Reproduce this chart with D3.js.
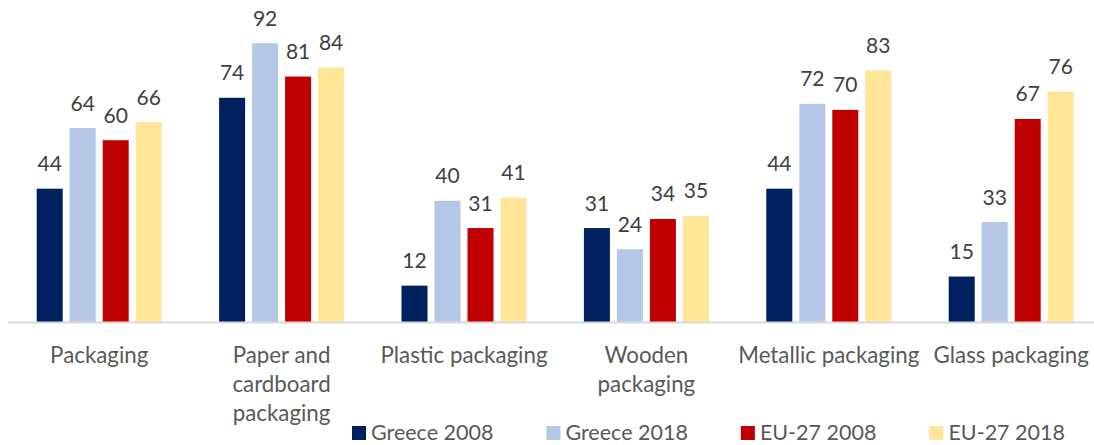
<!DOCTYPE html>
<html>
<head>
<meta charset="utf-8">
<script src="https://cdn.jsdelivr.net/npm/d3@7"></script>
<style>
  html, body { margin: 0; padding: 0; background: #ffffff; }
  svg { display: block; }
  text { font-family: Lato, "Open Sans", sans-serif; }
</style>
</head>
<body>
<svg id="chart" width="1094" height="445"></svg>
<script>
// ---- data ----
const categories = [
  ["Packaging"],
  ["Paper and", "cardboard", "packaging"],
  ["Plastic packaging"],
  ["Wooden", "packaging"],
  ["Metallic packaging"],
  ["Glass packaging"]
];
const seriesNames = ["Greece 2008", "Greece 2018", "EU-27 2008", "EU-27 2018"];
const greece2008 = [44, 74, 12, 31, 44, 15];
const greece2018 = [64, 92, 40, 24, 72, 33];
const eu2008     = [60, 81, 31, 34, 70, 67];
const eu2018     = [66, 84, 41, 35, 83, 76];
const seriesValues = [greece2008, greece2018, eu2008, eu2018];
const colors = ["#002060", "#B4C7E7", "#C00000", "#FFE699"];

// ---- layout ----
const svg = d3.select("#chart");
const baseY = 322;
const x0 = d3.scaleBand().domain(d3.range(categories.length)).range([8, 8 + 6 * 182.4]).padding(0);
const x1 = d3.scaleBand().domain(d3.range(seriesNames.length)).range([-62.5, 62.5]).paddingInner(0.212).paddingOuter(0);
const y = d3.scaleLinear().domain([0, 100]).range([baseY, 19]);

const groups = svg.selectAll("g.grp")
  .data(categories.map((c, i) => i))
  .enter().append("g")
  .attr("class", "grp")
  .attr("transform", i => `translate(${x0(i) + x0.bandwidth() / 2},0)`);

groups.selectAll("rect")
  .data(i => seriesValues.map((s, k) => ({ k, v: s[i] })))
  .enter().append("rect")
  .attr("x", d => x1(d.k))
  .attr("y", d => y(d.v))
  .attr("width", x1.bandwidth())
  .attr("height", d => baseY - y(d.v))
  .attr("fill", d => colors[d.k]);

groups.selectAll("text.val")
  .data(i => seriesValues.map((s, k) => ({ k, v: s[i] })))
  .enter().append("text")
  .attr("class", "val")
  .attr("x", d => x1(d.k) + x1.bandwidth() / 2)
  .attr("y", d => y(d.v) - 17.5)
  .attr("text-anchor", "middle")
  .attr("font-size", 21)
  .attr("fill", "#404040")
  .text(d => d.v);

// axis line
svg.append("line")
  .attr("x1", 8).attr("x2", 1094)
  .attr("y1", baseY + 0.5).attr("y2", baseY + 0.5)
  .attr("stroke", "#D9D9D9").attr("stroke-width", 2);

// category labels
groups.append("text")
  .attr("text-anchor", "middle")
  .attr("font-size", 22.3)
  .attr("fill", "#595959")
  .selectAll("tspan")
  .data(i => categories[i])
  .enter().append("tspan")
  .attr("x", 0)
  .attr("y", (d, j) => 363 + j * 29)
  .text(d => d);

// legend
let lx = 352;
seriesNames.forEach((name, k) => {
  svg.append("rect")
    .attr("x", lx).attr("y", 426)
    .attr("width", 14).attr("height", 14)
    .attr("fill", colors[k]);
  const t = svg.append("text")
    .attr("x", lx + 19).attr("y", 440)
    .attr("font-size", 21.5)
    .attr("fill", "#595959")
    .text(name);
  lx += 19 + t.node().getComputedTextLength() + 53;
});
</script>
</body>
</html>
